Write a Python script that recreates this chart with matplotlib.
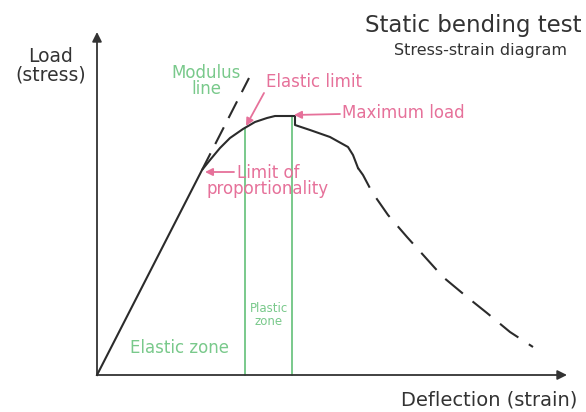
import matplotlib
matplotlib.use("Agg")
import matplotlib.pyplot as plt

# curve (deflection, load), origin at the axes corner
solid_x = [0, 105, 113, 123, 133, 146, 158, 170, 178, 196, 198, 198, 213, 233, 251, 256, 261]
solid_y = [0, 205, 215, 227, 237, 246, 253, 257, 259, 259, 259, 250, 245, 238, 228, 220, 207]
dash_x = [261, 266, 275, 291, 310, 328, 346, 370, 390, 413, 436]
dash_y = [207, 200, 183, 160, 138, 118, 98, 78, 62, 43, 28]
modulus_x = [105, 152]
modulus_y = [205, 297]
elastic_limit = (148, 247)
max_load = (195, 259)
prop_limit = (105, 205)

DARK = "#333333"
CURVE = "#2b2b2b"
PINK = "#e6719a"
GREEN = "#79c98b"

fig = plt.figure(figsize=(5.86, 4.12), dpi=100)
ax = fig.add_axes([0, 0, 1, 1])
ax.set_xlim(-97, 489)
ax.set_ylim(-37, 375)
ax.axis("off")

# axes with arrow heads
arr = dict(arrowstyle="-|>", color=DARK, lw=1.3, mutation_scale=14,
           shrinkA=0, shrinkB=0)
ax.annotate("", xy=(0, 343), xytext=(0, 0), arrowprops=arr)
ax.annotate("", xy=(470, 0), xytext=(0, 0), arrowprops=arr)

# zone boundaries
ax.plot([elastic_limit[0]] * 2, [0, elastic_limit[1]], color=GREEN, lw=1.4, zorder=1)
ax.plot([max_load[0]] * 2, [0, max_load[1]], color=GREEN, lw=1.4, zorder=1)

# curve
ax.plot(solid_x, solid_y, color=CURVE, lw=1.5, solid_joinstyle="round", zorder=3)
ax.plot(dash_x, dash_y, color=CURVE, lw=1.5, dashes=(11, 6), zorder=3)
ax.plot(modulus_x, modulus_y, color=CURVE, lw=1.5, dashes=(9, 5), zorder=3)

# titles and axis labels
ax.text(376, 350, "Static bending test", ha="center", va="center",
        fontsize=16.5, color=DARK)
ax.text(383, 325, "Stress-strain diagram", ha="center", va="center",
        fontsize=11.5, color=DARK)
ax.text(-46, 309, "Load\n(stress)", ha="center", va="center",
        fontsize=13.5, color=DARK, linespacing=0.95)
ax.text(392, -25, "Deflection (strain)", ha="center", va="center",
        fontsize=14, color=DARK)

# green labels
ax.text(109, 294, "Modulus\nline", ha="center", va="center",
        fontsize=12, color=GREEN, linespacing=0.9)
ax.text(83, 27, "Elastic zone", ha="center", va="center",
        fontsize=12, color=GREEN)
ax.text(172, 60, "Plastic\nzone", ha="center", va="center",
        fontsize=8.5, color=GREEN, linespacing=0.95)

# pink annotations
parr = dict(arrowstyle="-|>", color=PINK, lw=1.3, mutation_scale=11,
            shrinkA=0, shrinkB=0)
ax.text(169, 293, "Elastic limit", ha="left", va="center", fontsize=12, color=PINK)
ax.annotate("", xy=(elastic_limit[0] + 1, elastic_limit[1] + 2), xytext=(167, 282),
            arrowprops=parr)
ax.text(245, 262, "Maximum load", ha="left", va="center", fontsize=12, color=PINK)
ax.annotate("", xy=(max_load[0] + 2, 260), xytext=(243, 261), arrowprops=parr)
ax.text(171, 194, "Limit of\nproportionality", ha="center", va="center",
        fontsize=12, color=PINK, linespacing=0.9)
ax.annotate("", xy=(prop_limit[0] + 3, 203), xytext=(137, 203), arrowprops=parr)

fig.savefig("out.png", dpi=100)
